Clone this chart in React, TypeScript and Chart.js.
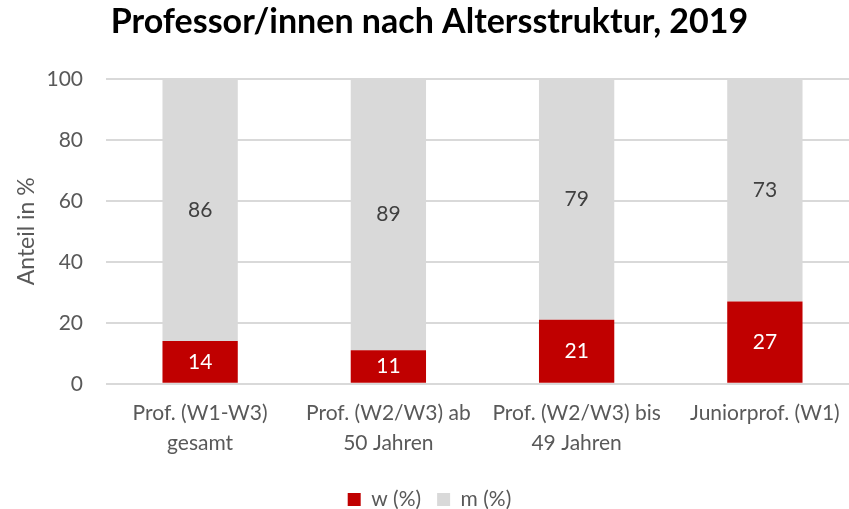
import React, { useEffect, useRef } from "react";
import { Chart, registerables } from "chart.js";

Chart.register(...registerables);

const categories: string[][] = [
  ["Prof. (W1-W3)", "gesamt"],
  ["Prof. (W2/W3) ab", "50 Jahren"],
  ["Prof. (W2/W3) bis", "49 Jahren"],
  ["Juniorprof. (W1)"],
];
const wValues = [14, 11, 21, 27];
const mValues = [86, 89, 79, 73];
const yTicks = [0, 20, 40, 60, 80, 100];

const FONT = "Lato, 'Open Sans', sans-serif";

const valueLabels = {
  id: "valueLabels",
  afterDatasetsDraw(chart: any) {
    const ctx = chart.ctx;
    ctx.save();
    ctx.font = `21px ${FONT}`;
    ctx.textAlign = "center";
    ctx.textBaseline = "middle";
    chart.data.datasets.forEach((ds: any, di: number) => {
      const meta = chart.getDatasetMeta(di);
      meta.data.forEach((el: any, i: number) => {
        const v = ds.data[i];
        ctx.fillStyle = di === 0 ? "#ffffff" : "#404040";
        ctx.fillText(String(v), el.x, (el.y + el.base) / 2);
      });
    });
    ctx.restore();
  },
};

export default function App() {
  const ref = useRef<HTMLCanvasElement>(null);
  useEffect(() => {
    if (!ref.current) return;
    const chart = new Chart(ref.current, {
      type: "bar",
      data: {
        labels: categories,
        datasets: [
          { label: "w (%)", data: wValues, backgroundColor: "#C00000", borderWidth: 0 },
          { label: "m (%)", data: mValues, backgroundColor: "#D9D9D9", borderWidth: 0 },
        ],
      },
      options: {
        animation: false,
        responsive: true,
        maintainAspectRatio: false,
        layout: { padding: { left: 0, right: 1, top: 2, bottom: 0 } },
        datasets: { bar: { categoryPercentage: 1, barPercentage: 0.4 } },
        plugins: {
          title: {
            display: true,
            text: "Professor/innen nach Altersstruktur, 2019",
            color: "#000000",
            font: { family: FONT, size: 34, weight: "bold" },
            padding: { top: 0, bottom: 36 },
          },
          legend: {
            position: "bottom",
            labels: {
              color: "#595959",
              font: { family: FONT, size: 21 },
              boxWidth: 13,
              boxHeight: 13,
              padding: 16,
            },
          },
          tooltip: { enabled: false },
        },
        scales: {
          x: {
            stacked: true,
            grid: { display: false },
            border: { display: false },
            ticks: { color: "#595959", font: { family: FONT, size: 21, lineHeight: 1.43 }, maxRotation: 0, autoSkip: false, padding: 6 },
            title: { display: true, text: " ", font: { size: 1 }, padding: { top: 0, bottom: 8 } },
          },
          y: {
            stacked: true,
            min: 0,
            max: 100,
            afterBuildTicks: (s: any) => { s.ticks = yTicks.map((v) => ({ value: v })); },
            afterFit: (s: any) => { s.width = 106; },
            grid: { color: "#D9D9D9", lineWidth: 2, drawTicks: false },
            border: { display: false },
            ticks: { color: "#595959", font: { family: FONT, size: 21 }, padding: 23 },
            title: { display: true, text: "Anteil in %", color: "#595959", font: { family: FONT, size: 23 }, padding: { top: 13, bottom: 0 } },
          },
        },
      },
      plugins: [valueLabels],
    });
    return () => chart.destroy();
  }, []);
  return (
    <div style={{ position: "fixed", left: 0, top: 0, width: 849, height: 509, overflow: "hidden", background: "#fff" }}>
      <div style={{ position: "relative", width: 860, height: 520 }}>
        <canvas ref={ref} />
      </div>
    </div>
  );
}
